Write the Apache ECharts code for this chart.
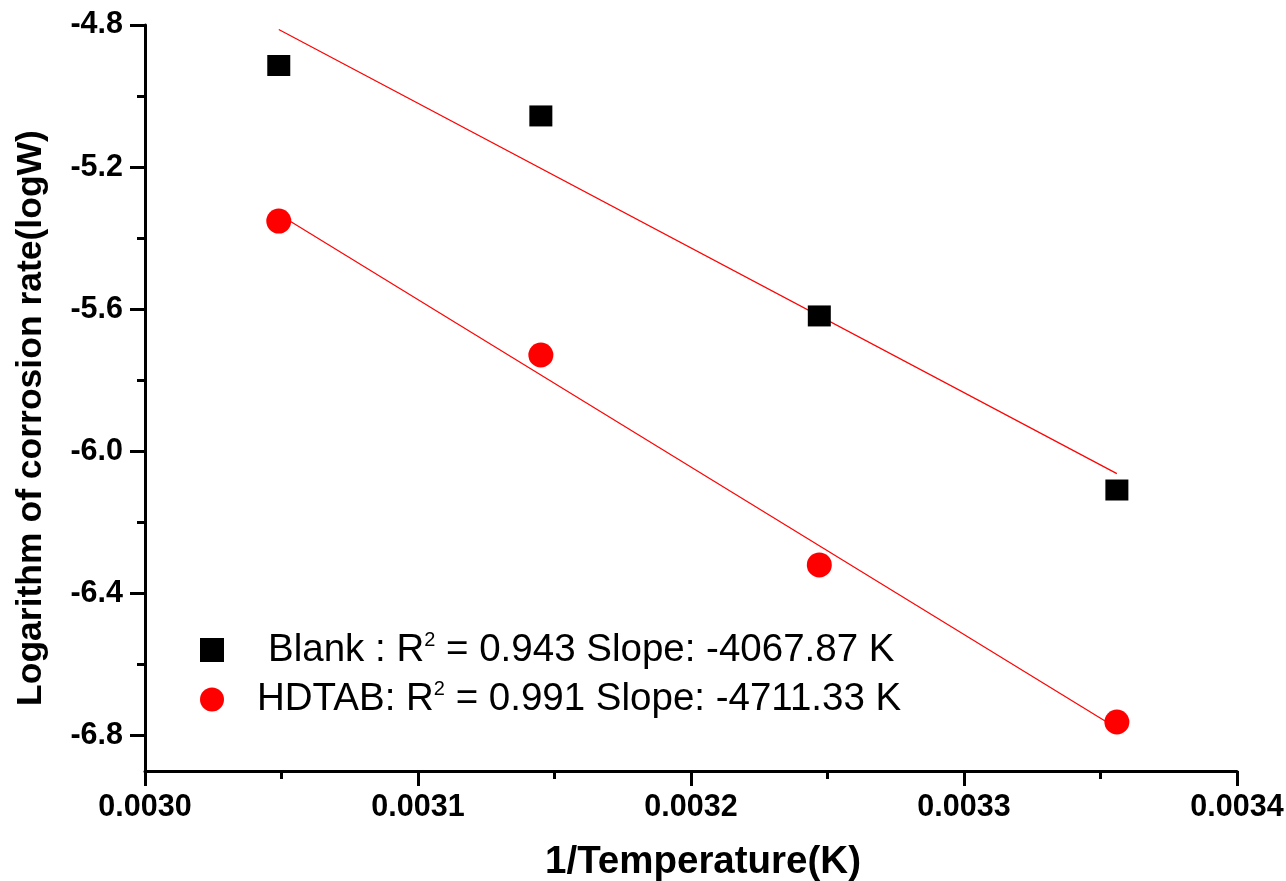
<!DOCTYPE html>
<html>
<head>
<meta charset="utf-8">
<title>Arrhenius plot</title>
<script src="https://cdn.jsdelivr.net/npm/echarts@6/dist/echarts.min.js"></script>
<style>
  html, body { margin: 0; padding: 0; background: #fff; }
  #chart { width: 1286px; height: 881px; }
</style>
</head>
<body>
<div id="chart"></div>
<script>
// Reciprocal temperature (1/K) for the four test temperatures
const invTemp = [0.003049, 0.003145, 0.003247, 0.003356];

// log of corrosion rate, without and with inhibitor
const blankLogW = [-4.914, -5.056, -5.619, -6.109];
const hdtabLogW = [-5.352, -5.729, -6.320, -6.762];

// Fit statistics shown in the legend
const seriesNames = ['Blank', 'HDTAB'];
const rSquared = ['0.943', '0.991'];
const slopes = ['-4067.87', '-4711.33'];

// Axis tick labels
const yMajorTicks = [-6.8, -6.4, -6.0, -5.6, -5.2, -4.8];
const yMinorTicks = [-6.6, -6.2, -5.8, -5.4, -5.0];

const FONT = "'Liberation Sans', Arial, Helvetica, sans-serif";

// Least-squares straight line through the points, evaluated at the outer x values
function fitLine(xs, ys) {
  const n = xs.length;
  const mx = xs.reduce((a, b) => a + b, 0) / n;
  const my = ys.reduce((a, b) => a + b, 0) / n;
  let sxy = 0, sxx = 0;
  for (let i = 0; i < n; i++) {
    sxy += (xs[i] - mx) * (ys[i] - my);
    sxx += (xs[i] - mx) * (xs[i] - mx);
  }
  const b = sxy / sxx;
  const a = my - b * mx;
  const x0 = Math.min(...xs), x1 = Math.max(...xs);
  return [[x0, a + b * x0], [x1, a + b * x1]];
}

const pairs = (xs, ys) => xs.map((x, i) => [x, ys[i]]);

const legendLabels = {
  Blank: '{p1| }{t|Blank : R}{s|2}{t| = ' + rSquared[0] + ' Slope: ' + slopes[0] + ' K}',
  HDTAB: '{p2| }{t|HDTAB: R}{s|2}{t| = ' + rSquared[1] + ' Slope: ' + slopes[1] + ' K}'
};

const chart = echarts.init(document.getElementById('chart'), null, { renderer: 'canvas' });

const axisBlack = { color: '#000', width: 3 };

chart.setOption({
  backgroundColor: '#fff',
  animation: false,
  grid: {
    left: 145, right: 49, top: 25, bottom: 110,
    containLabel: false,
    outerBoundsMode: 'none'
  },
  legend: {
    orient: 'vertical',
    left: 200,
    top: 630,
    padding: 0,
    itemGap: 10,
    itemWidth: 24,
    itemHeight: 24,
    selectedMode: false,
    data: [
      { name: seriesNames[0], icon: 'rect' },
      { name: seriesNames[1], icon: 'circle' }
    ],
    formatter: (name) => legendLabels[name],
    textStyle: {
      fontFamily: FONT,
      color: '#000',
      rich: {
        p1: { width: 39 },
        p2: { width: 28 },
        t: { fontFamily: FONT, fontSize: 38.5, color: '#000', lineHeight: 40 },
        s: { fontFamily: FONT, fontSize: 20, color: '#000', lineHeight: 20, verticalAlign: 'top' }
      }
    }
  },
  xAxis: {
    type: 'value',
    min: 0.003,
    max: 0.0034,
    interval: 0.0001,
    name: '1/Temperature(K)',
    nameLocation: 'middle',
    nameGap: 72,
    nameTextStyle: {
      fontFamily: FONT, fontSize: 38.5, fontWeight: 'bold', color: '#000',
      padding: [0, 0, 0, 24]
    },
    axisLine: { show: true, onZero: false, lineStyle: axisBlack },
    axisTick: { show: true, length: 15, lineStyle: axisBlack },
    minorTick: { show: true, splitNumber: 2, length: 8, lineStyle: axisBlack },
    axisLabel: {
      margin: 21,
      fontFamily: FONT,
      fontSize: 30.5,
      fontWeight: 'bold',
      color: '#000',
      formatter: (v) => v.toFixed(4)
    },
    splitLine: { show: false },
    minorSplitLine: { show: false }
  },
  yAxis: [
    {
      type: 'value',
      position: 'left',
      min: -6.9,
      max: -4.8,
      name: 'Logarithm of corrosion rate(logW)',
      nameLocation: 'middle',
      nameRotate: 90,
      nameGap: 96,
      nameTextStyle: {
        fontFamily: FONT, fontSize: 35.5, fontWeight: 'bold', color: '#000',
        padding: [0, 40, 0, 0]
      },
      axisLine: { show: true, onZero: false, lineStyle: axisBlack },
      axisTick: { show: true, length: 15, lineStyle: axisBlack, customValues: yMajorTicks },
      axisLabel: {
        margin: 22,
        fontFamily: FONT,
        fontSize: 30.5,
        fontWeight: 'bold',
        color: '#000',
        customValues: yMajorTicks,
        formatter: (v) => v.toFixed(1)
      },
      splitLine: { show: false }
    },
    {
      // Minor tick marks on the same left axis
      type: 'value',
      position: 'left',
      offset: 0,
      min: -6.9,
      max: -4.8,
      axisLine: { show: false },
      axisTick: { show: true, length: 8, lineStyle: axisBlack, customValues: yMinorTicks },
      axisLabel: { show: false },
      splitLine: { show: false }
    }
  ],
  series: [
    {
      name: seriesNames[0] + ' fit',
      type: 'line',
      data: fitLine(invTemp, blankLogW),
      showSymbol: false,
      symbol: 'none',
      silent: true,
      lineStyle: { color: '#ff0000', width: 1.2 },
      z: 1
    },
    {
      name: seriesNames[1] + ' fit',
      type: 'line',
      data: fitLine(invTemp, hdtabLogW),
      showSymbol: false,
      symbol: 'none',
      silent: true,
      lineStyle: { color: '#ff0000', width: 1.2 },
      z: 1
    },
    {
      name: seriesNames[0],
      type: 'scatter',
      data: pairs(invTemp, blankLogW),
      symbol: 'rect',
      symbolSize: [23, 21],
      itemStyle: { color: '#000', opacity: 1 },
      z: 3
    },
    {
      name: seriesNames[1],
      type: 'scatter',
      data: pairs(invTemp, hdtabLogW),
      symbol: 'circle',
      symbolSize: 25,
      itemStyle: { color: '#ff0000', opacity: 1 },
      z: 3
    }
  ]
});
</script>
</body>
</html>
